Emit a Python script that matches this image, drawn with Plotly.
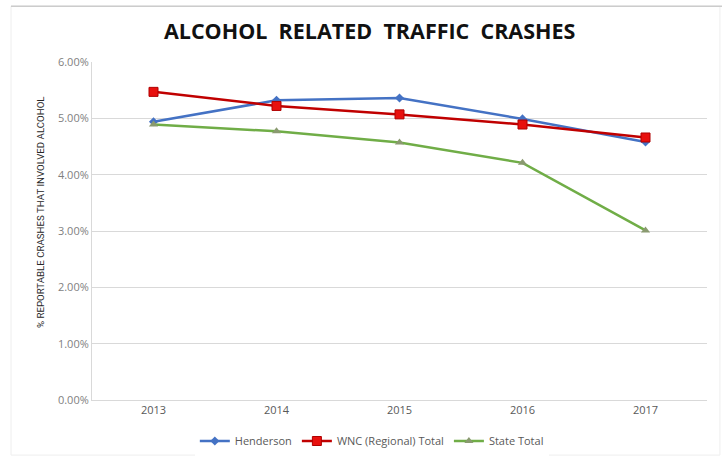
import plotly.graph_objects as go

years = ["2013", "2014", "2015", "2016", "2017"]
henderson = [4.94, 5.32, 5.36, 4.99, 4.58]
wnc = [5.47, 5.22, 5.07, 4.89, 4.66]
state = [4.89, 4.77, 4.57, 4.21, 3.01]
y_ticks = [0, 1, 2, 3, 4, 5, 6]
y_tick_labels = ["0.00%", "1.00%", "2.00%", "3.00%", "4.00%", "5.00%", "6.00%"]

fig = go.Figure()
fig.add_trace(go.Scatter(x=years, y=henderson, name="Henderson", mode="lines+markers",
                         line=dict(color="#4472C4", width=2.5),
                         marker=dict(symbol="diamond", size=7, color="#4472C4")))
fig.add_trace(go.Scatter(x=years, y=wnc, name="WNC (Regional) Total", mode="lines+markers",
                         line=dict(color="#C00000", width=2.5),
                         marker=dict(symbol="square", size=9, color="#E8100E",
                                     line=dict(color="#B00000", width=1))))
fig.add_trace(go.Scatter(x=years, y=state, name="State Total", mode="lines+markers",
                         line=dict(color="#70AD47", width=2.5),
                         marker=dict(symbol="triangle-up", size=8, color="#8A9A70")))

fig.update_layout(
    width=722, height=463,
    paper_bgcolor="white", plot_bgcolor="white",
    margin=dict(l=92, r=15, t=62, b=63, autoexpand=False),
    title=dict(text="<b>ALCOHOL  RELATED  TRAFFIC  CRASHES</b>", x=0.512, xanchor="center",
               y=0.931, yanchor="middle",
               font=dict(family="Open Sans", size=21.5, color="#111111")),
    font=dict(family="Open Sans", color="#7f7f7f"),
    xaxis=dict(type="category", range=[-0.5, 4.5], showgrid=False, automargin=False,
               showline=True, linecolor="#d9d9d9", ticks="",
               tickfont=dict(size=11, color="#595959")),
    yaxis=dict(range=[0, 6], tickvals=y_ticks, ticktext=y_tick_labels, automargin=False,
               showgrid=True, gridcolor="#d9d9d9", gridwidth=1,
               showline=True, linecolor="#d9d9d9", zeroline=False,
               tickfont=dict(size=11, color="#7f7f7f")),
    annotations=[dict(text="% REPORTABLE CRASHES THAT INVOLVED ALCOHOL", textangle=-90,
                      xref="paper", yref="paper", x=(40 - 92) / 615, y=(400 - 212) / 338,
                      xanchor="center", yanchor="middle", showarrow=False,
                      font=dict(family="Roboto", size=9.7, color="#262626"))],
    legend=dict(orientation="h", x=0.515, xanchor="center", xref="container",
                y=0.0475, yanchor="middle", yref="container",
                font=dict(size=11, color="#595959"), itemwidth=30),
    shapes=[
        dict(type="rect", xref="paper", yref="paper", x0=-0.1317, x1=1.021, y0=-0.163, y1=1.165,
             line=dict(color="#eeeeee", width=1), layer="below"),
        dict(type="line", xref="paper", yref="paper", x0=-0.1317, x1=1.03, y0=1.165, y1=1.165,
             line=dict(color="#cccccc", width=1.5)),
    ],
)

fig.write_html("out.html", config={"displayModeBar": False},
               post_script="document.body.style.margin='0px';")
